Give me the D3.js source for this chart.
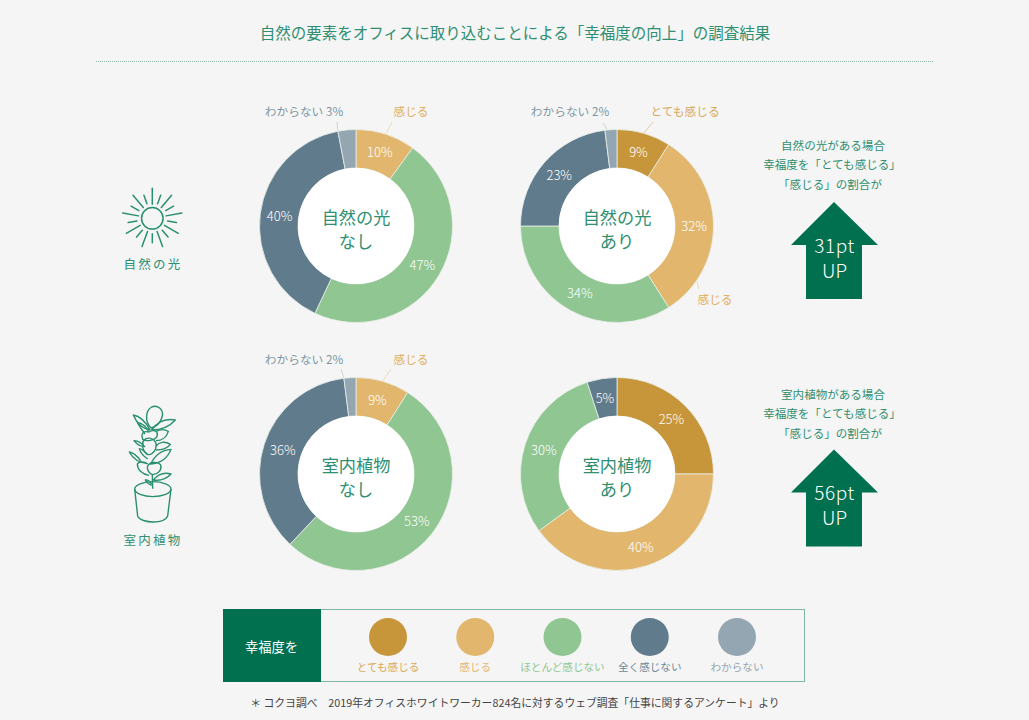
<!DOCTYPE html>
<html lang="ja"><head><meta charset="utf-8">
<script src="https://cdn.jsdelivr.net/npm/d3@7/dist/d3.min.js"></script>
<style>
html,body{margin:0;padding:0;background:#f5f5f5;overflow:hidden}
svg{display:block}
text{font-family:"Noto Sans CJK JP","Noto Sans",sans-serif}
</style></head><body>
<svg id="c" width="1029" height="720"></svg>
<script>
const titleText = "自然の要素をオフィスに取り込むことによる「幸福度の向上」の調査結果";
const categories = ["とても感じる","感じる","ほとんど感じない","全く感じない","わからない"];
const colors = ["#c8963a","#e2b76d","#90c691","#5f7b8c","#94a6b1"];
const legendTextColors = ["#d9a85a","#e2b76d","#90c691","#6f8896","#94a6b1"];
const calloutColors = ["#d9a85a","#dfae60","#90c691","#5f7b8c","#7f95a2"];
const sunlightNone = [0,10,47,40,3];
const sunlightYes = [9,32,34,23,2];
const plantNone = [0,9,53,36,2];
const plantYes = [25,40,30,5,0];
const centerTop = ["自然の光","自然の光","室内植物","室内植物"];
const centerBottom = ["なし","あり","なし","あり"];
const upValues = ["31pt","56pt"];
const upLines = [["自然の光がある場合","幸福度を「とても感じる」","「感じる」の割合が"],
                 ["室内植物がある場合","幸福度を「とても感じる」","「感じる」の割合が"]];
const source = "＊ コクヨ調べ　2019年オフィスホワイトワーカー824名に対するウェブ調査「仕事に関するアンケート」より";

const GREEN="#00704f", TEXT="#2f8f72", LAT="Lato,'Noto Sans',sans-serif";
const svg=d3.select("#c");
svg.append("rect").attr("width",1029).attr("height",720).attr("fill","#f5f5f5");

svg.append("text").attr("x",515).attr("y",38.5).attr("text-anchor","middle")
  .attr("font-size",15.5).attr("fill",TEXT).text(titleText);
svg.append("line").attr("x1",96).attr("x2",933).attr("y1",61.5).attr("y2",61.5)
  .attr("stroke","#86b8a5").attr("stroke-width",1).attr("stroke-dasharray","1 1");

const R=96.5, r0=58;
const pie=d3.pie().sort(null).value(d=>d);
const arc=d3.arc().innerRadius(r0).outerRadius(R);
const labelArc=d3.arc().innerRadius(77).outerRadius(77);
const edgeArc=d3.arc().innerRadius(97).outerRadius(97);

const donuts=[
 {v:sunlightNone,cx:356,cy:226,call:[
   {i:1,f:.5,end:[36,-104],lab:[55,-114],t:"感じる"},
   {i:4,f:.0,end:[-19,-104],lab:[-52,-114],t:"わからない 3%"}]},
 {v:sunlightYes,cx:617,cy:226,call:[
   {i:0,f:.5,end:[36,-104],lab:[68,-114],t:"とても感じる"},
   {i:4,f:.2,end:[-14,-103],lab:[-47,-114],t:"わからない 2%"},
   {i:1,f:.8,end:[82,63],lab:[98,74],t:"感じる"}]},
 {v:plantNone,cx:356,cy:474,call:[
   {i:1,f:.5,end:[35,-105],lab:[55,-114],t:"感じる"},
   {i:4,f:.0,end:[-15,-105],lab:[-52,-114],t:"わからない 2%"}]},
 {v:plantYes,cx:617,cy:474,call:[]}
];
donuts.forEach((d,k)=>{
  const g=svg.append("g").attr("transform",`translate(${d.cx},${d.cy})`);
  const arcs=pie(d.v);
  d.call.forEach(c=>{
    const a=arcs[c.i];
    const ang=a.startAngle+(a.endAngle-a.startAngle)*c.f;
    const p=edgeArc.centroid({startAngle:ang,endAngle:ang});
    g.append("line").attr("x1",p[0]).attr("y1",p[1]).attr("x2",c.end[0]).attr("y2",c.end[1])
      .attr("stroke",colors[c.i]).attr("stroke-opacity",.55).attr("stroke-width",.8);
    g.append("text").attr("x",c.lab[0]).attr("y",c.lab[1]).attr("dy","0.36em").attr("text-anchor","middle")
      .attr("font-size",11.7).attr("fill",calloutColors[c.i]).text(c.t);
  });
  g.selectAll("path.s").data(arcs.filter(a=>a.value>0)).join("path").attr("class","s")
    .attr("d",arc).attr("fill",a=>colors[a.index]).attr("stroke","#e9efe9").attr("stroke-width",.8);
  g.append("circle").attr("r",r0).attr("fill","#fff");
  g.selectAll("text.p").data(arcs.filter(a=>a.value>=5)).join("text").attr("class","p")
    .attr("transform",a=>`translate(${labelArc.centroid(a)})`).attr("dy","0.36em").attr("text-anchor","middle")
    .attr("font-size",13).attr("font-weight",300).attr("fill","#fff").attr("font-family",LAT).text(a=>a.value+"%");
  g.append("text").attr("y",-8.5).attr("dy","0.36em").attr("text-anchor","middle").attr("font-size",17.2).attr("fill",TEXT).text(centerTop[k]);
  g.append("text").attr("y",15.5).attr("dy","0.36em").attr("text-anchor","middle").attr("font-size",17.2).attr("fill",TEXT).text(centerBottom[k]);
});

[0,1].forEach(k=>{
  const dy=k*247.5;
  const g=svg.append("g").attr("transform",`translate(835,${dy})`);
  const xs=[-2,-3,-5];
  upLines[k].forEach((t,i)=>{
    g.append("text").attr("x",xs[i]).attr("y",145.5+k*1.5+i*19.5).attr("dy","0.36em").attr("text-anchor","middle")
      .attr("font-size",11.55).attr("fill",TEXT).text(t);
  });
  g.append("path").attr("fill",GREEN)
    .attr("d",d3.line()([[-1,202],[43,245],[27,245],[27,299],[-29,299],[-29,245],[-44,245]])+"Z");
  g.append("text").attr("x",-0.5).attr("y",246).attr("dy","0.36em").attr("text-anchor","middle")
    .attr("font-size",19).attr("font-weight",300).attr("letter-spacing",.6).attr("fill","#fff").attr("font-family",LAT).text(upValues[k]);
  g.append("text").attr("x",-0.5).attr("y",271).attr("dy","0.36em").attr("text-anchor","middle")
    .attr("font-size",19).attr("font-weight",300).attr("fill","#fff").attr("font-family",LAT).text("UP");
});

// sun icon: 18 rays alternating long / short
const sun=svg.append("g").attr("transform","translate(152.3,218.3)").attr("stroke","#2a8f70").attr("stroke-width",1.5).attr("fill","none").attr("stroke-linecap","round");
sun.append("circle").attr("r",10.8);
d3.range(18).forEach(i=>{
  const a=(i*20)*Math.PI/180, long=i%2===0;
  const r1=long?14:15.5, r2=long?30:24.5;
  sun.append("line").attr("x1",Math.sin(a)*r1).attr("y1",-Math.cos(a)*r1).attr("x2",Math.sin(a)*r2).attr("y2",-Math.cos(a)*r2);
});
svg.append("text").attr("x",153).attr("y",264).attr("dy","0.36em").attr("text-anchor","middle")
  .attr("font-size",12.5).attr("letter-spacing",2.2).attr("fill",TEXT).text("自然の光");

// plant icon
const pl=svg.append("g").attr("transform","translate(100,390) scale(0.3333)")
  .attr("stroke","#2a8f70").attr("stroke-width",4.2).attr("fill","none").attr("stroke-linejoin","round");
[
 "M153 114 C134 95 136 62 155 51 C172 43 191 58 187 78 C183 98 168 112 153 114Z",
 "M150 120 C135 92 118 78 100 75 C108 95 125 115 150 120Z",
 "M155 120 C172 95 195 84 226 90 C210 108 185 120 155 120Z",
 "M135 132 C125 118 118 108 112 97 C128 100 142 112 145 125",
 "M128 148 C122 130 130 122 147 126 C160 118 174 122 172 136 C170 150 140 156 128 148Z",
 "M168 124 C180 118 195 118 205 124 C200 142 185 152 168 152",
 "M134 170 C125 158 115 153 102 152 C110 162 120 170 134 170Z",
 "M128 165 C126 150 140 142 152 145 C166 148 172 162 167 176 C162 190 150 196 142 193 C134 188 128 178 128 165Z",
 "M168 168 C178 156 195 153 211 163 C200 178 185 180 168 180",
 "M143 194 C130 180 122 176 118 176 C122 190 132 200 143 207",
 "M122 212 C110 196 100 188 88 186 C98 205 115 218 142 220",
 "M152 222 C165 195 185 180 213 178 C205 200 185 220 152 222Z",
 "M143 222 C128 212 116 216 112 222 C112 238 125 252 147 256",
 "M142 230 C148 216 170 213 182 224 C186 240 176 252 158 254 C148 250 142 242 142 230Z",
 "M160 270 C175 252 195 247 213 252 C200 266 180 273 160 270Z",
 "M157 252 L158 296",
 "M155 282 C148 272 142 268 136 270 C140 278 146 282 155 286",
 "M104 297 C104 285 130 275 158 275 C188 275 213 285 213 297 C213 310 188 320 158 320 C130 320 104 310 104 297Z",
 "M104 297 L113 378 C118 390 140 396 160 396 C180 396 198 390 203 378 L213 297"
].forEach(d=>pl.append("path").attr("d",d));
svg.append("text").attr("x",153).attr("y",540).attr("dy","0.36em").attr("text-anchor","middle")
  .attr("font-size",12.5).attr("letter-spacing",2.2).attr("fill",TEXT).text("室内植物");

// legend
svg.append("rect").attr("x",223.5).attr("y",609.5).attr("width",581).attr("height",72).attr("fill","none").attr("stroke","#7fb8a2");
svg.append("rect").attr("x",223).attr("y",609).attr("width",98).attr("height",73).attr("fill",GREEN);
svg.append("text").attr("x",271.5).attr("y",647).attr("dy","0.36em").attr("text-anchor","middle").attr("font-size",13.3).attr("fill","#fff").text("幸福度を");
const legendX=d3.scalePoint().domain(categories).range([388,737]);
categories.forEach((c,i)=>{
  svg.append("circle").attr("cx",legendX(c)).attr("cy",637).attr("r",19).attr("fill",colors[i]);
  svg.append("text").attr("x",legendX(c)).attr("y",667.5).attr("dy","0.36em").attr("text-anchor","middle")
    .attr("font-size",10.6).attr("fill",legendTextColors[i]).text(c);
});
svg.append("text").attr("x",515).attr("y",703.5).attr("dy","0.36em").attr("text-anchor","middle")
  .attr("font-size",10.8).attr("fill","#444").text(source);
</script>
</body></html>
